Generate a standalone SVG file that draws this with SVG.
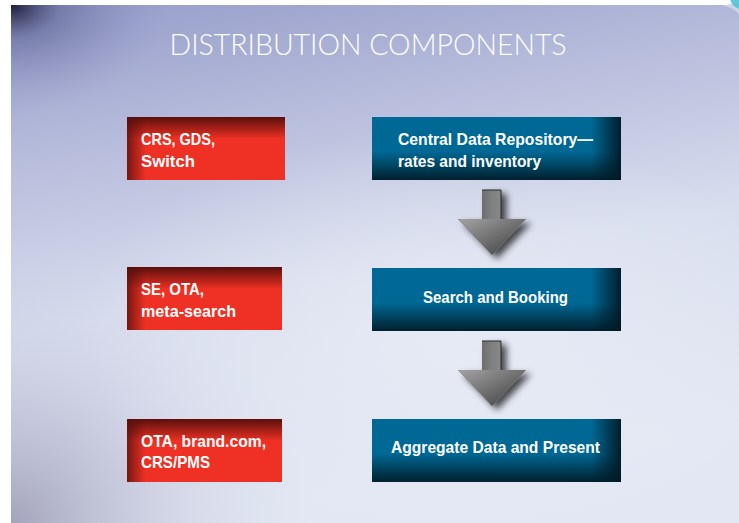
<svg xmlns="http://www.w3.org/2000/svg" width="739" height="523" viewBox="0 0 739 523">
<defs>
<linearGradient id="bg" x1="0" y1="0" x2="0.25" y2="1">
<stop offset="0" stop-color="#959cc9"/>
<stop offset="0.3" stop-color="#b8bedc"/>
<stop offset="0.6" stop-color="#d8ddee"/>
<stop offset="1" stop-color="#e2e7f3"/>
</linearGradient>
<radialGradient id="tl" cx="0" cy="0" r="1">
<stop offset="0" stop-color="#1c1c38" stop-opacity="1"/>
<stop offset="0.3" stop-color="#4a4f80" stop-opacity="0.45"/>
<stop offset="1" stop-color="#8890c0" stop-opacity="0"/>
</radialGradient>
<radialGradient id="bl" cx="0" cy="1" r="1">
<stop offset="0" stop-color="#7a7896" stop-opacity="0.6"/>
<stop offset="0.6" stop-color="#a8a8c4" stop-opacity="0.2"/>
<stop offset="1" stop-color="#c8cce2" stop-opacity="0"/>
</radialGradient>
<radialGradient id="glow" cx="0.55" cy="0.5" r="0.5">
<stop offset="0" stop-color="#eef1f8" stop-opacity="0.6"/>
<stop offset="1" stop-color="#eef1f8" stop-opacity="0"/>
</radialGradient>
<linearGradient id="redV" x1="0" y1="0" x2="0" y2="1">
<stop offset="0" stop-color="#5a0f0c"/>
<stop offset="0.35" stop-color="#ee3124"/>
<stop offset="1" stop-color="#ee3124"/>
</linearGradient>
<linearGradient id="redH" x1="0" y1="0" x2="1" y2="0">
<stop offset="0" stop-color="#5a0f0c" stop-opacity="0.8"/>
<stop offset="0.12" stop-color="#5a0f0c" stop-opacity="0"/>
<stop offset="1" stop-color="#5a0f0c" stop-opacity="0"/>
</linearGradient>
<linearGradient id="blueV" x1="0" y1="0" x2="0" y2="1">
<stop offset="0" stop-color="#006894"/>
<stop offset="0.55" stop-color="#006894"/>
<stop offset="1" stop-color="#00202e"/>
</linearGradient>
<linearGradient id="blueH" x1="0" y1="0" x2="1" y2="0">
<stop offset="0" stop-color="#001a26" stop-opacity="0"/>
<stop offset="0.88" stop-color="#001a26" stop-opacity="0"/>
<stop offset="1" stop-color="#001a26" stop-opacity="0.95"/>
</linearGradient>
<linearGradient id="shaft" x1="0" y1="0" x2="1" y2="0">
<stop offset="0" stop-color="#404040"/>
<stop offset="0.5" stop-color="#808080"/>
<stop offset="1" stop-color="#a0a0a0"/>
</linearGradient>
<linearGradient id="head" x1="0" y1="0" x2="1" y2="1">
<stop offset="0" stop-color="#a4a4a4"/>
<stop offset="0.5" stop-color="#707070"/>
<stop offset="1" stop-color="#3a3a3a"/>
</linearGradient>
<filter id="sh" x="-30%" y="-30%" width="160%" height="160%">
<feGaussianBlur in="SourceAlpha" stdDeviation="3.5"/>
<feOffset dx="5" dy="4" result="b"/>
<feComponentTransfer><feFuncA type="linear" slope="0.7"/></feComponentTransfer>
<feMerge><feMergeNode/><feMergeNode in="SourceGraphic"/></feMerge>
</filter>
<g id="arrow">
<path d="M0,0 H19 V29 H44 L10,65 L-24,29 H0 Z" fill="url(#shaft)"/>
<path d="M-24,29 H44 L10,65 Z" fill="url(#head)"/>
<path d="M0,0 H19 V29" fill="none" stroke="#2a2a2a" stroke-width="1"/>
</g>
</defs>
<style>
.t{font-family:"Liberation Sans",Arial,sans-serif;font-weight:bold;font-size:17px;fill:#ffffff}
.title{font-family:Lato,"Liberation Sans",Arial,sans-serif;font-weight:300;font-size:29px;fill:#ffffff}
</style>
<rect width="739" height="523" fill="#ffffff"/>
<rect x="11" y="5" width="728" height="518" fill="url(#bg)"/>
<rect x="11" y="5" width="160" height="110" fill="url(#tl)"/>
<rect x="11" y="250" width="300" height="273" fill="url(#bl)"/>
<ellipse cx="420" cy="330" rx="380" ry="200" fill="url(#glow)"/>
<path d="M722,5 Q732,5 739,0 L739,14 Q734,8 722,5 Z" fill="#cfd4e4"/>
<circle cx="742" cy="-3" r="12" fill="#5fc7d8"/>
<text class="title" x="368" y="55" text-anchor="middle" textLength="397" lengthAdjust="spacingAndGlyphs">DISTRIBUTION COMPONENTS</text>
<g id="connectors" filter="url(#sh)">
<use href="#arrow" x="482" y="190"/>
<use href="#arrow" x="482" y="341"/>
</g>
<g id="red1">
<rect x="127" y="117" width="158" height="63" fill="url(#redV)"/>
<rect x="127" y="117" width="158" height="63" fill="url(#redH)"/>
<text class="t" x="141" y="145" textLength="74" lengthAdjust="spacingAndGlyphs">CRS, GDS,</text>
<text class="t" x="141" y="167" textLength="54" lengthAdjust="spacingAndGlyphs">Switch</text>
</g>
<g id="red2">
<rect x="127" y="267" width="155" height="63" fill="url(#redV)"/>
<rect x="127" y="267" width="155" height="63" fill="url(#redH)"/>
<text class="t" x="141" y="295" textLength="63" lengthAdjust="spacingAndGlyphs">SE, OTA,</text>
<text class="t" x="141" y="317" textLength="95" lengthAdjust="spacingAndGlyphs">meta-search</text>
</g>
<g id="red3">
<rect x="127" y="419" width="155" height="63" fill="url(#redV)"/>
<rect x="127" y="419" width="155" height="63" fill="url(#redH)"/>
<text class="t" x="141" y="447" textLength="125" lengthAdjust="spacingAndGlyphs">OTA, brand.com,</text>
<text class="t" x="141" y="468" textLength="69" lengthAdjust="spacingAndGlyphs">CRS/PMS</text>
</g>
<g id="blue1">
<rect x="372" y="117" width="249" height="63" fill="url(#blueV)"/>
<rect x="372" y="117" width="249" height="63" fill="url(#blueH)"/>
<text class="t" x="398" y="145" textLength="195" lengthAdjust="spacingAndGlyphs">Central Data Repository—</text>
<text class="t" x="398" y="167" textLength="143" lengthAdjust="spacingAndGlyphs">rates and inventory</text>
</g>
<g id="blue2">
<rect x="372" y="268" width="249" height="63" fill="url(#blueV)"/>
<rect x="372" y="268" width="249" height="63" fill="url(#blueH)"/>
<text class="t" x="423" y="303" textLength="145" lengthAdjust="spacingAndGlyphs">Search and Booking</text>
</g>
<g id="blue3">
<rect x="372" y="419" width="249" height="63" fill="url(#blueV)"/>
<rect x="372" y="419" width="249" height="63" fill="url(#blueH)"/>
<text class="t" x="391" y="453" textLength="209" lengthAdjust="spacingAndGlyphs">Aggregate Data and Present</text>
</g>
</svg>
